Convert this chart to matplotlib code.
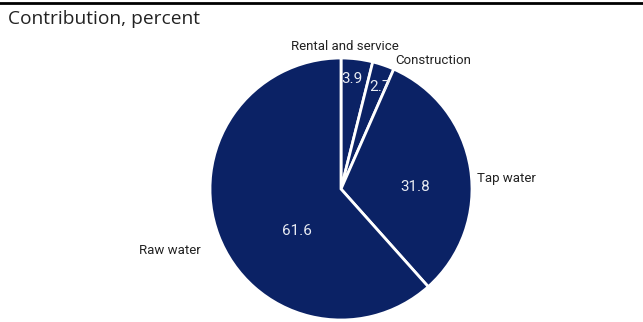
import matplotlib.pyplot as plt

# Contribution shares, clockwise from 12 o'clock
categories = ['Rental and service', 'Construction', 'Tap water', 'Raw water']
values = [3.9, 2.7, 31.8, 61.6]

# label positions in pixel coords (x, y from top)
label_pos = [(345, 46), (433, 60), (506, 178), (170, 250)]
value_pos = [(352, 79), (380, 87), (415, 187), (297, 231)]

plt.rcParams['font.family'] = ['Roboto', 'DejaVu Sans']

fig = plt.figure(figsize=(6.43, 3.22), dpi=100)
ax = fig.add_axes([0, 0, 1, 1])
ax.axis('off')

navy = '#0b2265'
wedges, _ = ax.pie(values, startangle=90, counterclock=False,
                   center=(341, 322 - 189), radius=131,
                   colors=[navy] * len(values),
                   wedgeprops=dict(edgecolor='white', linewidth=2))
ax.set_xlim(0, 643)
ax.set_ylim(0, 322)
ax.set_aspect('equal')

for (x, y), name in zip(label_pos, categories):
    ax.text(x, 322 - y, name, ha='center', va='center', fontsize=9.5, color='#222222')
for (x, y), v in zip(value_pos, values):
    ax.text(x, 322 - y, f'{v:.1f}', ha='center', va='center', fontsize=11, color='#e8ebf2')

# top rule and title
fig.add_artist(plt.Line2D([0, 1], [1 - 3 / 322, 1 - 3 / 322], color='black', linewidth=2))
fig.text(8 / 643, 1 - 19 / 322, 'Contribution, percent', ha='left', va='center',
         fontsize=13.8, color='#222222', family='Open Sans')

fig.savefig('out.png', dpi=100)
